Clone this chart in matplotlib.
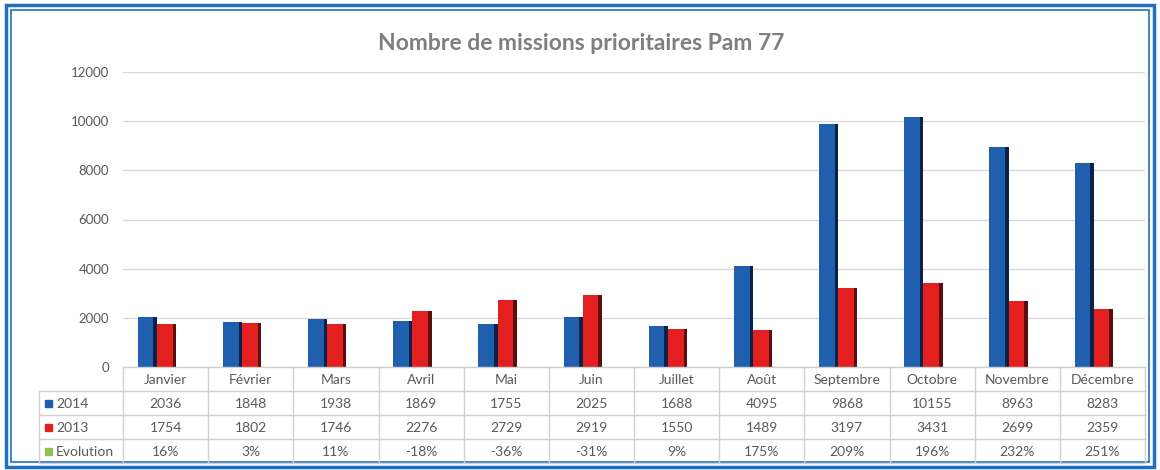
import matplotlib.pyplot as plt
from matplotlib.patches import Rectangle
import numpy as np

plt.rcParams['font.family'] = ['Lato', 'DejaVu Sans']

months = ['Janvier', 'Février', 'Mars', 'Avril', 'Mai', 'Juin', 'Juillet',
          'Août', 'Septembre', 'Octobre', 'Novembre', 'Décembre']
v2014 = [2036, 1848, 1938, 1869, 1755, 2025, 1688, 4095, 9868, 10155, 8963, 8283]
v2013 = [1754, 1802, 1746, 2276, 2729, 2919, 1550, 1489, 3197, 3431, 2699, 2359]
evolution = ['16%', '3%', '11%', '-18%', '-36%', '-31%', '9%', '175%',
             '209%', '196%', '232%', '251%']
yticks = [0, 2000, 4000, 6000, 8000, 10000, 12000]

W, H = 1160, 470
fig = plt.figure(figsize=(W / 100, H / 100), dpi=100)

blue, blue_dark = '#1f5fae', '#0b2145'
red, red_dark = '#e3201f', '#5c0d0d'
grey_txt = '#595959'
grid_c = '#d9d9d9'

# plot area
x0, x1 = 123, 1145
y0, y1 = 367, 72
ax = fig.add_axes([x0 / W, 1 - y0 / H, (x1 - x0) / W, (y0 - y1) / H])
x = np.arange(len(months))
w = 0.225
ax.bar(x - 0.215, v2014, w, color=blue, zorder=3)
ax.bar(x - 0.215 + w / 2 - 0.02, v2014, 0.04, color=blue_dark, zorder=4)
ax.bar(x + 0.01, v2013, w, color=red, zorder=3)
ax.bar(x + 0.01 + w / 2 - 0.02, v2013, 0.04, color=red_dark, zorder=4)
ax.set_xlim(-0.5, len(months) - 0.5)
ax.set_ylim(0, 12000)
ax.set_yticks(yticks)
ax.set_yticklabels([str(t) for t in yticks], color=grey_txt, fontsize=9.5)
ax.tick_params(axis='y', length=0, pad=10)
ax.set_xticks([])
ax.grid(axis='y', color=grid_c, lw=1, zorder=0)
for s in ax.spines.values():
    s.set_visible(False)

# overlay for table, title and frame (pixel coords)
ov = fig.add_axes([0, 0, 1, 1], facecolor='none')
ov.set_xlim(0, W)
ov.set_ylim(H, 0)
ov.axis('off')

ov.text(581, 44, 'Nombre de missions prioritaires Pam 77', ha='center', va='center',
        fontsize=16.5, fontweight='bold', color='#7f7f7f')

# data table
col_w = (x1 - x0) / len(months)
rows_y = [367, 391, 415, 439, 463]
tx0 = 39
lc = '#d0d0d0'
ov.plot([x0, x1], [rows_y[0], rows_y[0]], color=lc, lw=1)
for yy in rows_y[1:]:
    ov.plot([tx0, x1], [yy, yy], color=lc, lw=1)
ov.plot([tx0, tx0], [rows_y[1], rows_y[4]], color=lc, lw=1)
for k in range(len(months) + 1):
    xx = x0 + k * col_w
    ov.plot([xx, xx], [rows_y[0], rows_y[4]], color=lc, lw=1)

rows = [months, [str(v) for v in v2014], [str(v) for v in v2013], evolution]
for r, vals in enumerate(rows):
    yc = (rows_y[r] + rows_y[r + 1]) / 2
    for k, t in enumerate(vals):
        ov.text(x0 + (k + 0.5) * col_w, yc + 1, t, ha='center', va='center',
                fontsize=10, color=grey_txt)

labels = ['2014', '2013', 'Evolution']
colors = [blue, red, '#92c050']
for i, (lab, c) in enumerate(zip(labels, colors)):
    yc = (rows_y[i + 1] + rows_y[i + 2]) / 2
    ov.add_patch(Rectangle((45, yc - 3.5), 7, 7, color=c))
    ov.text(56, yc + 1, lab, ha='left', va='center', fontsize=10, color=grey_txt)

# double blue frame
fc = '#1f6fc0'
ov.add_patch(Rectangle((6, 5), 1148, 462, fill=False, ec=fc, lw=2.5))
ov.add_patch(Rectangle((11, 10), 1138, 452, fill=False, ec=fc, lw=1.2))

fig.savefig('out.png', dpi=100)
